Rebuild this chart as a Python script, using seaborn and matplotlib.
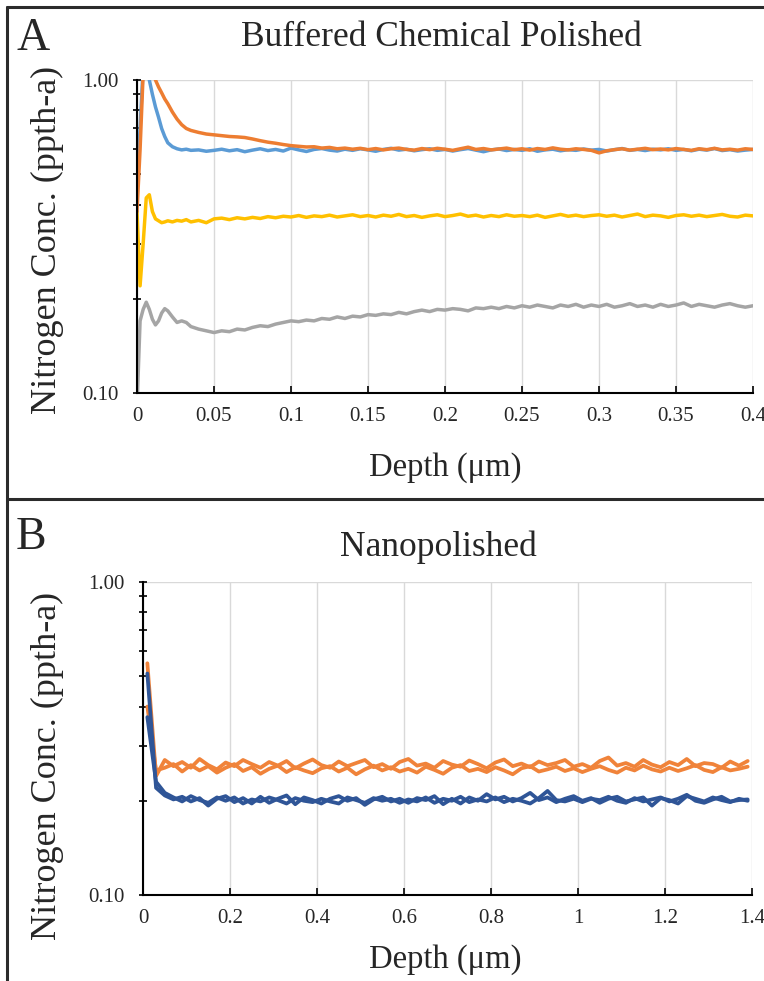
import numpy as np
import pandas as pd
import matplotlib
matplotlib.use("Agg")
import matplotlib.pyplot as plt
from matplotlib.lines import Line2D
from matplotlib.ticker import FixedLocator, NullFormatter
import seaborn as sns

# ---------------- data ----------------
# Panel A: depth grid (um)
depth_a_head = [0.0, 0.002, 0.004, 0.006, 0.008, 0.010, 0.012, 0.014, 0.016,
                0.018, 0.020, 0.023, 0.026, 0.029, 0.032, 0.035]
depth_a_tail = list(np.round(np.linspace(0.040, 0.400, 73), 3))
depth_a = depth_a_head + depth_a_tail

bcp_blue = [0.47, 0.70, 1.10, 1.40, 1.00, 0.90, 0.82, 0.76, 0.70, 0.66, 0.63, 0.612, 0.603, 0.598, 0.601, 0.596,
            0.598, 0.592, 0.596, 0.601, 0.594, 0.599, 0.590, 0.597, 0.603, 0.595,
            0.600, 0.593, 0.606, 0.598, 0.591, 0.600, 0.604, 0.597, 0.593, 0.601,
            0.596, 0.603, 0.598, 0.592, 0.600, 0.605, 0.597, 0.601, 0.594, 0.599,
            0.603, 0.596, 0.600, 0.593, 0.599, 0.604, 0.597, 0.590, 0.598, 0.602,
            0.595, 0.600, 0.596, 0.603, 0.592, 0.598, 0.601, 0.594, 0.599, 0.596,
            0.602, 0.597, 0.600, 0.593, 0.599, 0.604, 0.596, 0.600, 0.595, 0.601,
            0.598, 0.603, 0.596, 0.600, 0.594, 0.601, 0.597, 0.604, 0.595, 0.599,
            0.593, 0.597, 0.600]

bcp_orange = [0.38, 0.60, 1.05, 1.50, 1.60, 1.40, 1.00, 0.95, 0.91, 0.87, 0.84, 0.79, 0.75, 0.72, 0.70, 0.69,
              0.680, 0.672, 0.668, 0.664, 0.660, 0.658, 0.655, 0.648, 0.640, 0.633,
              0.628, 0.622, 0.617, 0.614, 0.611, 0.612, 0.606, 0.609, 0.603, 0.606,
              0.601, 0.605, 0.599, 0.604, 0.598, 0.603, 0.606, 0.600, 0.597, 0.604,
              0.599, 0.605, 0.601, 0.596, 0.603, 0.610, 0.600, 0.604, 0.598, 0.602,
              0.606, 0.599, 0.603, 0.597, 0.604, 0.600, 0.607, 0.601, 0.598, 0.603,
              0.600, 0.596, 0.585, 0.594, 0.599, 0.603, 0.597, 0.601, 0.605, 0.599,
              0.602, 0.598, 0.604, 0.600, 0.596, 0.603, 0.599, 0.605, 0.598, 0.601,
              0.597, 0.603, 0.600]

bcp_yellow = [0.38, 0.22, 0.30, 0.42, 0.43, 0.38, 0.36, 0.355, 0.35, 0.352, 0.355, 0.352, 0.356, 0.354, 0.358, 0.352,
              0.356, 0.350, 0.360, 0.362, 0.358, 0.363, 0.360, 0.364, 0.361, 0.366,
              0.363, 0.367, 0.365, 0.369, 0.364, 0.368, 0.366, 0.370, 0.365, 0.368,
              0.371, 0.366, 0.369, 0.365, 0.370, 0.367, 0.372, 0.366, 0.369, 0.364,
              0.368, 0.371, 0.366, 0.369, 0.373, 0.367, 0.370, 0.365, 0.369, 0.366,
              0.371, 0.367, 0.369, 0.366, 0.370, 0.364, 0.368, 0.372, 0.367, 0.370,
              0.366, 0.369, 0.371, 0.367, 0.370, 0.365, 0.369, 0.373, 0.366, 0.370,
              0.368, 0.364, 0.369, 0.371, 0.367, 0.370, 0.366, 0.369, 0.372, 0.367,
              0.365, 0.370, 0.368]

bcp_gray = [0.09, 0.17, 0.185, 0.195, 0.185, 0.172, 0.165, 0.17, 0.18, 0.186, 0.183, 0.175, 0.168, 0.17, 0.168, 0.163,
            0.160, 0.158, 0.156, 0.158, 0.157, 0.160, 0.159, 0.162, 0.164, 0.163,
            0.166, 0.168, 0.170, 0.169, 0.171, 0.170, 0.173, 0.172, 0.175, 0.173,
            0.176, 0.175, 0.178, 0.177, 0.179, 0.178, 0.181, 0.179, 0.182, 0.184,
            0.182, 0.185, 0.184, 0.186, 0.185, 0.183, 0.187, 0.186, 0.188, 0.186,
            0.189, 0.187, 0.190, 0.188, 0.191, 0.189, 0.187, 0.191, 0.189, 0.192,
            0.188, 0.191, 0.189, 0.192, 0.188, 0.190, 0.193, 0.189, 0.191, 0.188,
            0.192, 0.189, 0.191, 0.194, 0.189, 0.192, 0.190, 0.188, 0.191, 0.193,
            0.190, 0.188, 0.190]

# Panel B: depth grid (um)
depth_b = list(np.round(np.linspace(0.01, 1.39, 70), 3))

np_orange1 = [0.55, 0.24, 0.270, 0.258, 0.266, 0.255, 0.272, 0.260, 0.252, 0.265,
              0.258, 0.270, 0.262, 0.255, 0.266, 0.259, 0.268, 0.254, 0.263, 0.271,
              0.260, 0.255, 0.267, 0.258, 0.264, 0.270, 0.256, 0.262, 0.253, 0.266,
              0.272, 0.259, 0.263, 0.255, 0.268, 0.261, 0.257, 0.269, 0.262, 0.254,
              0.265, 0.271, 0.258, 0.263, 0.256, 0.267, 0.260, 0.264, 0.270, 0.257,
              0.262, 0.255, 0.268, 0.275, 0.259, 0.264, 0.257, 0.270, 0.261, 0.256,
              0.266, 0.260, 0.272, 0.258, 0.264, 0.262, 0.255, 0.267, 0.259, 0.268]

np_orange2 = [0.40, 0.25, 0.255, 0.262, 0.248, 0.260, 0.250, 0.258, 0.246, 0.255,
              0.262, 0.249, 0.256, 0.244, 0.253, 0.259, 0.247, 0.256, 0.250, 0.245,
              0.254, 0.258, 0.248, 0.255, 0.243, 0.252, 0.259, 0.250, 0.256, 0.248,
              0.253, 0.246, 0.257, 0.251, 0.244, 0.255, 0.260, 0.249, 0.253, 0.247,
              0.256, 0.250, 0.243, 0.254, 0.258, 0.248, 0.252, 0.257, 0.249, 0.254,
              0.247, 0.253, 0.258, 0.251, 0.246, 0.255, 0.250, 0.259, 0.252, 0.248,
              0.255, 0.249, 0.254, 0.260, 0.251, 0.247, 0.256, 0.250, 0.253, 0.257]

np_blue1 = [0.51, 0.22, 0.208, 0.202, 0.206, 0.199, 0.204, 0.193, 0.203, 0.207,
            0.198, 0.204, 0.196, 0.206, 0.197, 0.203, 0.208, 0.195, 0.205, 0.201,
            0.196, 0.203, 0.207, 0.200, 0.204, 0.194, 0.202, 0.206, 0.199, 0.203,
            0.197, 0.204, 0.201, 0.207, 0.195, 0.203, 0.196, 0.205, 0.200, 0.210,
            0.202, 0.206, 0.199, 0.204, 0.212, 0.201, 0.205, 0.198, 0.203, 0.207,
            0.200, 0.204, 0.197, 0.203, 0.206, 0.199, 0.202, 0.205, 0.193, 0.204,
            0.201, 0.196, 0.207, 0.203, 0.199, 0.205, 0.201, 0.198, 0.203, 0.200]

np_blue2 = [0.37, 0.23, 0.212, 0.205, 0.199, 0.207, 0.201, 0.197, 0.205, 0.200,
            0.205, 0.196, 0.202, 0.199, 0.205, 0.201, 0.196, 0.204, 0.200, 0.198,
            0.203, 0.199, 0.196, 0.205, 0.201, 0.197, 0.204, 0.200, 0.203, 0.197,
            0.202, 0.199, 0.205, 0.197, 0.203, 0.200, 0.206, 0.198, 0.202, 0.199,
            0.205, 0.198, 0.203, 0.200, 0.196, 0.204, 0.215, 0.201, 0.199, 0.203,
            0.198, 0.203, 0.201, 0.206, 0.200, 0.197, 0.204, 0.199, 0.202, 0.205,
            0.199, 0.203, 0.209, 0.200, 0.197, 0.202, 0.206, 0.199, 0.201, 0.202]

xticks_a = [0, 0.05, 0.1, 0.15, 0.2, 0.25, 0.3, 0.35, 0.4]
xticklabels_a = ["0", "0.05", "0.1", "0.15", "0.2", "0.25", "0.3", "0.35", "0.4"]
xticks_b = [0, 0.2, 0.4, 0.6, 0.8, 1.0, 1.2, 1.4]
xticklabels_b = ["0", "0.2", "0.4", "0.6", "0.8", "1", "1.2", "1.4"]
yticks = [0.1, 1.0]
yticklabels = ["0.10", "1.00"]

# ---------------- style ----------------
sns.set_style("white")
plt.rcParams["font.family"] = ["Liberation Serif", "DejaVu Serif"]

W, H = 764, 981
fig = plt.figure(figsize=(W / 100, H / 100), dpi=100)


def fx(px):
    return px / W


def fy(py):
    return 1 - py / H


def make_axes(left, right, top, bottom):
    return fig.add_axes([fx(left), fy(bottom), fx(right - left), (bottom - top) / H])


ax_a = make_axes(137, 753, 80, 393)
ax_b = make_axes(143, 752, 582, 895)

C_BLUE = "#5B9BD5"
C_ORANGE = "#ED7D31"
C_YELLOW = "#FFC000"
C_GRAY = "#A5A5A5"
C_DBLUE = "#2F5597"
C_ORANGE_B = "#F0833A"

df_a = pd.DataFrame({"depth": depth_a, "gray": bcp_gray, "yellow": bcp_yellow,
                     "blue": bcp_blue, "orange": bcp_orange})
for col, c in [("gray", C_GRAY), ("yellow", C_YELLOW), ("blue", C_BLUE), ("orange", C_ORANGE)]:
    sns.lineplot(data=df_a, x="depth", y=col, ax=ax_a, color=c, lw=2.5,
                 estimator=None, sort=False, zorder=3)

df_b = pd.DataFrame({"depth": depth_b, "o1": np_orange1, "o2": np_orange2,
                     "b1": np_blue1, "b2": np_blue2})
for col, c in [("o1", C_ORANGE_B), ("o2", C_ORANGE_B), ("b1", C_DBLUE), ("b2", C_DBLUE)]:
    sns.lineplot(data=df_b, x="depth", y=col, ax=ax_b, color=c, lw=2.7,
                 estimator=None, sort=False, zorder=3)


def style_axes(ax, xticks, xticklabels, xmax):
    ax.set_yscale("log")
    ax.set_ylim(0.1, 1.0)
    ax.set_xlim(0, xmax)
    ax.set_xlabel("")
    ax.set_ylabel("")
    ax.set_xticks(xticks)
    ax.set_xticklabels(xticklabels)
    ax.yaxis.set_major_locator(FixedLocator(yticks))
    ax.set_yticklabels(yticklabels)
    ax.yaxis.set_minor_locator(FixedLocator([0.2, 0.3, 0.4, 0.5, 0.6, 0.7, 0.8, 0.9]))
    ax.yaxis.set_minor_formatter(NullFormatter())
    ax.grid(True, axis="x", color="#D9D9D9", lw=1.0, zorder=0)
    ax.grid(True, axis="y", which="major", color="#D9D9D9", lw=1.0, zorder=0)
    for s in ["top", "right"]:
        ax.spines[s].set_visible(False)
    for s in ["left", "bottom"]:
        ax.spines[s].set_visible(True)
        ax.spines[s].set_color("black")
        ax.spines[s].set_linewidth(1.5)
        ax.spines[s].set_zorder(4)
    ax.tick_params(axis="x", which="major", direction="in", length=5, width=1.2,
                   color="black", labelsize=15, pad=10, bottom=True)
    ax.tick_params(axis="y", which="both", direction="inout", length=6, width=1.2,
                   color="black", labelsize=15, pad=10, left=True)
    ax.set_axisbelow(True)


style_axes(ax_a, xticks_a, xticklabels_a, 0.4)
style_axes(ax_b, xticks_b, xticklabels_b, 1.4)

# titles, labels
fig.text(fx(441), fy(38), "Buffered Chemical Polished", fontsize=25.5, ha="center", va="center")
fig.text(fx(438), fy(547), "Nanopolished", fontsize=25.5, ha="center", va="center")
fig.text(fx(33), fy(39), "A", fontsize=33, ha="center", va="center")
fig.text(fx(31), fy(538), "B", fontsize=33, ha="center", va="center")
fig.text(fx(47), fy(240), "Nitrogen Conc. (ppth-a)", fontsize=26, rotation=90, ha="center", va="center")
fig.text(fx(47), fy(766), "Nitrogen Conc. (ppth-a)", fontsize=26, rotation=90, ha="center", va="center")
fig.text(fx(445), fy(468), "Depth (\u03bcm)", fontsize=23.5, ha="center", va="center")
fig.text(fx(445), fy(960), "Depth (\u03bcm)", fontsize=23.5, ha="center", va="center")

# panel borders
bc = "#2b2b2b"
fig.add_artist(Line2D([fx(7), fx(764)], [fy(7), fy(7)], color=bc, lw=2.2))
fig.add_artist(Line2D([fx(7), fx(764)], [fy(499), fy(499)], color=bc, lw=2.2))
fig.add_artist(Line2D([fx(7), fx(7)], [fy(7), fy(981)], color=bc, lw=2.2))

fig.savefig("out.png", dpi=100)
